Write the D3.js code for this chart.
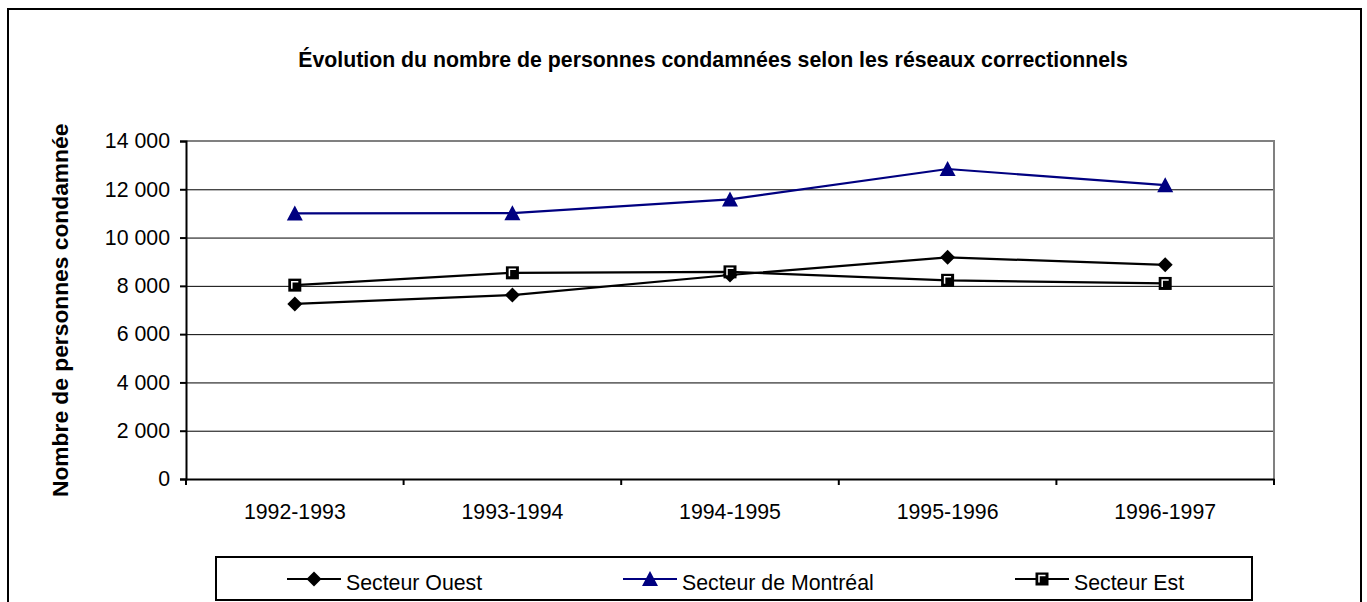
<!DOCTYPE html>
<html>
<head>
<meta charset="utf-8">
<script src="https://cdn.jsdelivr.net/npm/d3@7"></script>
<style>
  body { margin: 0; background: #fff; }
  svg text { font-family: "Liberation Sans", Arial, sans-serif; }
</style>
</head>
<body>
<svg id="chart" width="1367" height="602"></svg>
<script>
const periods = ["1992-1993", "1993-1994", "1994-1995", "1995-1996", "1996-1997"];
const ouest = [7250, 7620, 8450, 9180, 8870];
const montreal = [11000, 11010, 11580, 12840, 12170];
const est = [8030, 8540, 8580, 8230, 8100];
const yTicks = [0, 2000, 4000, 6000, 8000, 10000, 12000, 14000];

const series = [
    { name: "Secteur Ouest", values: ouest, color: "#000000", marker: "diamond" },
    { name: "Secteur de Montréal", values: montreal, color: "#000080", marker: "triangle" },
    { name: "Secteur Est", values: est, color: "#000000", marker: "square" }
];

const FONT = "Liberation Sans, Arial, sans-serif";
const FS = 21.3; // 16pt

const svg = d3.select("#chart");
const plot = { left: 186, right: 1274, top: 141, bottom: 479 };

// outer frame (bottom edge runs off the picture)
svg.append("rect")
    .attr("x", 8).attr("y", 9)
    .attr("width", 1353).attr("height", 620)
    .attr("fill", "none").attr("stroke", "#000").attr("stroke-width", 2);

svg.append("text")
    .attr("x", 713).attr("y", 67)
    .attr("text-anchor", "middle")
    .attr("font-size", FS).attr("font-weight", "bold")
    .text("Évolution du nombre de personnes condamnées selon les réseaux correctionnels");

const x = d3.scaleBand().domain(periods).range([plot.left, plot.right]).padding(0);
const y = d3.scaleLinear().domain([0, 14000]).range([plot.bottom, plot.top]);
const fmt = v => d3.format(",")(v).replace(/,/g, " ");

// grid lines
svg.append("g")
    .selectAll("line")
    .data(yTicks.filter(d => d > 0 && d < 14000))
    .join("line")
    .attr("x1", plot.left).attr("x2", plot.right)
    .attr("y1", d => y(d) + 0.5).attr("y2", d => y(d) + 0.5)
    .attr("stroke", "#000").attr("stroke-width", 1);

// plot area top/right border
svg.append("path")
    .attr("d", `M${plot.left},${plot.top}H${plot.right}V${plot.bottom}`)
    .attr("fill", "none").attr("stroke", "#808080").attr("stroke-width", 2);

// y axis
const yAxis = svg.append("g")
    .attr("transform", `translate(${plot.left},0)`)
    .call(d3.axisLeft(y).tickValues(yTicks).tickFormat(fmt).tickSize(6).tickPadding(10));
yAxis.attr("font-size", FS).attr("font-family", FONT);
yAxis.select(".domain").attr("stroke", "#000").attr("stroke-width", 2);
yAxis.selectAll(".tick line").attr("stroke-width", 2);
yAxis.selectAll("text").attr("fill", "#000");

// x axis: ticks on the category boundaries
const xAxis = svg.append("g")
    .attr("transform", `translate(0,${plot.bottom})`)
    .call(d3.axisBottom(x).tickSize(0).tickPadding(25));
xAxis.attr("font-size", FS).attr("font-family", FONT);
xAxis.select(".domain").attr("stroke", "#000").attr("stroke-width", 2);
xAxis.selectAll("text").attr("fill", "#000");
xAxis.selectAll(".boundary")
    .data(periods.map(p => x(p)).concat([plot.right]))
    .join("line")
    .attr("class", "boundary")
    .attr("x1", d => d).attr("x2", d => d)
    .attr("y1", 0).attr("y2", 6)
    .attr("stroke", "#000").attr("stroke-width", 2);

// y axis title, clipped at the top like the original
svg.append("clipPath").attr("id", "ytclip")
    .append("rect").attr("x", 0).attr("y", 123).attr("width", 120).attr("height", 400);
svg.append("g")
    .attr("clip-path", "url(#ytclip)")
    .append("text")
    .attr("transform", "translate(68,497) rotate(-90)")
    .attr("font-size", FS).attr("font-weight", "bold")
    .attr("textLength", 386).attr("lengthAdjust", "spacingAndGlyphs")
    .text("Nombre de personnes condamnées");

function drawMarker(g, type, color) {
    if (type === "diamond") {
        g.append("path").attr("d", "M0,-7.5L7.5,0L0,7.5L-7.5,0Z").attr("fill", color);
    } else if (type === "triangle") {
        g.append("path").attr("d", "M0,-8L8,7L-8,7Z").attr("fill", color);
    } else {
        g.append("rect").attr("x", -6.5).attr("y", -6.5).attr("width", 13).attr("height", 13)
            .attr("fill", "#000");
        g.append("path").attr("d", "M-3,3.5V-3.5H3.5").attr("fill", "none")
            .attr("stroke", "#fff").attr("stroke-width", 1.5);
    }
}

const line = d3.line()
    .x((d, i) => x(periods[i]) + x.bandwidth() / 2)
    .y(d => y(d));

series.forEach(s => {
    svg.append("path")
        .datum(s.values)
        .attr("d", line)
        .attr("fill", "none")
        .attr("stroke", s.color)
        .attr("stroke-width", 2.2);
    s.values.forEach((v, i) => {
        const g = svg.append("g")
            .attr("transform", `translate(${x(periods[i]) + x.bandwidth() / 2},${y(v)})`);
        drawMarker(g, s.marker, s.color);
    });
});

// legend
svg.append("rect")
    .attr("x", 216).attr("y", 557).attr("width", 1036).attr("height", 43)
    .attr("fill", "#fff").attr("stroke", "#000").attr("stroke-width", 2);
const legendX = [287, 623, 1015];
series.forEach((s, i) => {
    const g = svg.append("g").attr("transform", `translate(${legendX[i]},579)`);
    g.append("line").attr("x1", 0).attr("x2", 54).attr("y1", 0).attr("y2", 0)
        .attr("stroke", s.color).attr("stroke-width", 2);
    drawMarker(g.append("g").attr("transform", "translate(27,0)"), s.marker, s.color);
    g.append("text").attr("x", 59).attr("y", 11)
        .attr("font-size", FS).attr("fill", "#000")
        .text(s.name);
});
</script>
</body>
</html>
